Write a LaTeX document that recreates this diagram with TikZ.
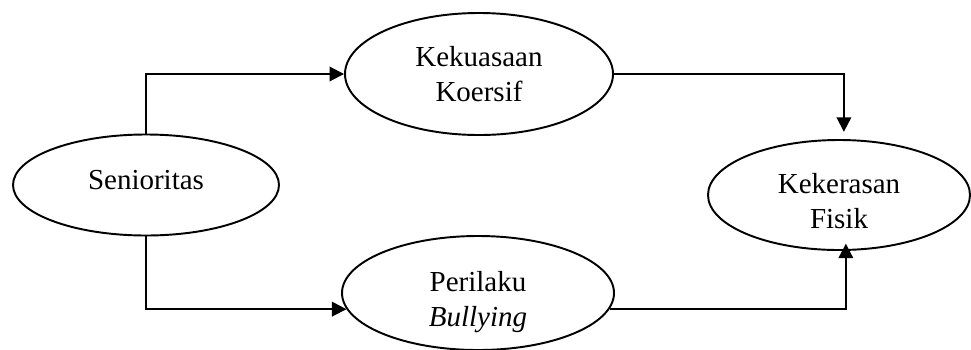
\documentclass[tikz,border=0pt]{standalone}
\usepackage{fontspec}
\setmainfont{Liberation Serif}
\usetikzlibrary{shapes.geometric,arrows.meta}

\newcommand{\px}{0.4138pt}

\begin{document}
\begin{tikzpicture}[x=0.4138pt, y=-0.4138pt,
  var/.style={draw, ellipse, line width=0.8pt, inner sep=0pt, align=center,
    font=\fontsize{12}{14.5}\selectfont},
  txt/.style={inner sep=0pt, align=center, font=\fontsize{12}{14.5}\selectfont},
  link/.style={line width=0.8pt, -{Triangle[length=6pt,width=6pt]}}]

\useasboundingbox (0,0) rectangle (971,349);

% -------- variables -----------
\node [var, minimum width=266*\px, minimum height=101*\px] (sen) at (146,185) {};
\node [txt] (sentxt) at (146,180) {Senioritas};
\node [var, minimum width=268*\px, minimum height=122*\px] (kua) at (479,74) {Kekuasaan\\Koersif};
\node [var, minimum width=272*\px, minimum height=114*\px] (bul) at (478,293) {};
\node [txt] (bultxt) at (478,302) {Perilaku\\\textit{Bullying}};
\node [var, minimum width=262*\px, minimum height=110*\px] (ker) at (839,195) {};
\node [txt] (kertxt) at (839,201) {Kekerasan\\Fisik};

% -------- paths -----------
\draw [link] (sen.north) |- (kua.west);
\draw [link] (sen.south) |- (bul.187);
\draw [link, shorten >=3pt] (kua.east) -| (ker.85);
\draw [link, shorten >=-3pt] (bul.353) -| (ker.-83);

\end{tikzpicture}
\end{document}
